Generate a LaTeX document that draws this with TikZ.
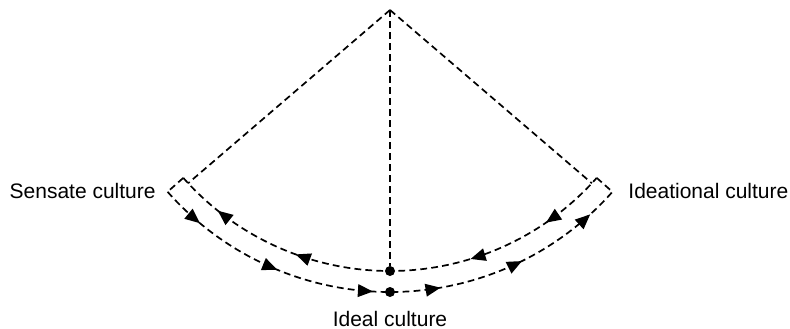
\documentclass[tikz,border=0pt]{standalone}
\usepackage{fontspec}
\setmainfont{Liberation Sans}
\usetikzlibrary{arrows.meta,decorations.markings,calc}
\begin{document}
\begin{tikzpicture}[x=0.5pt,y=-0.5pt,
  dashline/.style={line width=0.85pt, dash pattern=on 3.4pt off 2.1pt},
  dot/.style={circle, fill=black, inner sep=0pt, minimum size=5pt},
  lbl/.style={font=\fontsize{10.5}{12}\selectfont, inner sep=0pt},
  backarrows/.style={postaction={decorate}, decoration={markings,
    mark=at position 0.102 with {\arrowreversed{Triangle[length=7.5pt,width=6.3pt]}},
    mark=at position 0.294 with {\arrowreversed{Triangle[length=7.5pt,width=6.3pt]}},
    mark=at position 0.675 with {\arrowreversed{Triangle[length=7.5pt,width=6.3pt]}},
    mark=at position 0.855 with {\arrowreversed{Triangle[length=7.5pt,width=6.3pt]}}}},
  fwdarrows/.style={postaction={decorate}, decoration={markings,
    mark=at position 0.090 with {\arrow{Triangle[length=7.5pt,width=6.3pt]}},
    mark=at position 0.270 with {\arrow{Triangle[length=7.5pt,width=6.3pt]}},
    mark=at position 0.466 with {\arrow{Triangle[length=7.5pt,width=6.3pt]}},
    mark=at position 0.601 with {\arrow{Triangle[length=7.5pt,width=6.3pt]}},
    mark=at position 0.772 with {\arrow{Triangle[length=7.5pt,width=6.3pt]}},
    mark=at position 0.937 with {\arrow{Triangle[length=7.5pt,width=6.3pt]}}}}
]
\useasboundingbox (0,0) rectangle (790,328);
\coordinate (C) at (390,-5);
\coordinate (apex) at (390,10);
\node[dot] (inner) at (390,271) {};
\node[dot] (outer) at (390,292) {};
% arc end points
\coordinate (iL) at ($(C)+(138.5:276)$);
\coordinate (oL) at ($(C)+(138.5:297)$);
\coordinate (iR) at ($(C)+(41.5:276)$);
\coordinate (oR) at ($(C)+(41.5:297)$);
\coordinate (jL) at ($(C)+(137:276)$);
\coordinate (jR) at ($(C)+(43:276)$);
% arcs
\draw[dashline, backarrows, shift={(390,-5)}] plot[domain=138.5:41.5, samples=150] (\x:276);
\draw[dashline, fwdarrows, shift={(390,-5)}] plot[domain=138.5:41.5, samples=150] (\x:297);
% end caps
\draw[dashline] (iL) -- (oL);
\draw[dashline] (iR) -- (oR);
% lines from apex
\draw[dashline] (apex) -- (jL);
\draw[dashline] (apex) -- (jR);
\draw[dashline] (apex) -- (inner);
% labels
\node[lbl, anchor=base east] (sensate) at (156,198.5) {Sensate culture};
\node[lbl, anchor=base west] (ideational) at (628,198.5) {Ideational culture};
\node[lbl, anchor=base] (ideal) at (390,326) {Ideal culture};
\end{tikzpicture}
\end{document}
